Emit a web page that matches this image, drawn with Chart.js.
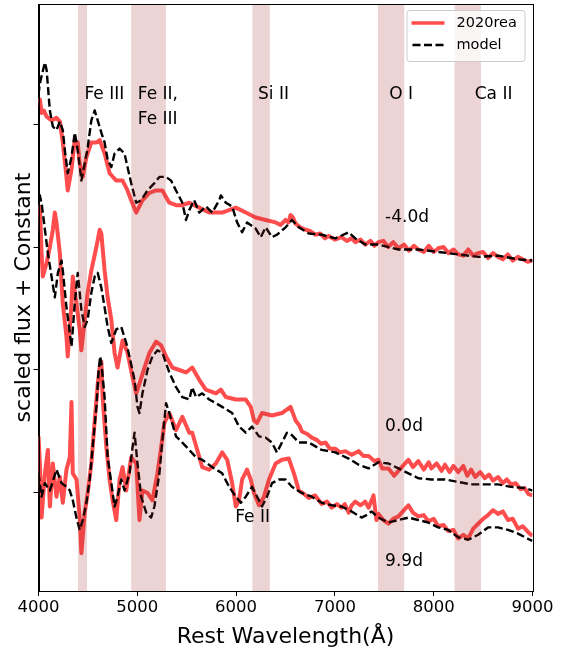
<!DOCTYPE html>
<html>
<head>
<meta charset="utf-8">
<script src="https://cdn.jsdelivr.net/npm/chart.js@4"></script>
<style>
  html, body { margin: 0; padding: 0; background: #fff; }
</style>
</head>
<body>
<canvas id="spectra" width="568" height="648"></canvas>
<script>
// --- data (wavelength in A, scaled flux + constant) ---
const epochLabels = ["-4.0d", "0.0d", "9.9d"];
const epochLabelFlux = [2.24, 0.54, -0.56];
const epochLabelWave = 7508;

const waveObsA = [4000,4014,4031,4054,4082,4132,4182,4216,4246,4283,4296,4334,4367,4397,4417,4448,4485,4535,4586,4619,4669,4720,4787,4851,4901,4938,4989,5052,5123,5190,5254,5324,5392,5456,5526,5627,5728,5859,5997,6098,6198,6299,6400,
  6450,6501,6530,6551,6575,6602,6650,6703,6750,6803,6850,6900,6937,7000,7068,7120,7170,7206,7260,7307,7360,7400,7441,7490,7540,7590,7643,7700,7750,7800,7844,7900,7950,8000,8046,8100,8150,8200,8248,8300,8350,8400,8450,8500,8550,8600,8651,8700,8750,8800,8853,8900,8950,9000];
const fluxObsA = [3.18,3.20,3.09,3.11,3.06,3.03,3.05,3.02,2.85,2.57,2.46,2.63,2.87,2.85,2.68,2.57,2.73,2.85,2.85,2.87,2.76,2.60,2.54,2.54,2.46,2.38,2.28,2.38,2.44,2.46,2.46,2.36,2.34,2.34,2.36,2.32,2.28,2.28,2.32,2.28,2.24,2.22,2.20,
  2.18,2.22,2.20,2.26,2.24,2.19,2.16,2.14,2.13,2.10,2.11,2.07,2.09,2.06,2.08,2.05,2.07,2.04,2.06,2.02,2.05,2.01,2.04,2.05,2.00,2.04,1.99,2.02,1.97,2.01,1.98,1.96,2.01,1.96,1.99,2.00,1.95,1.98,1.94,1.93,1.98,1.93,1.95,1.96,1.91,1.95,1.92,1.90,1.94,1.89,1.92,1.90,1.88,1.89];
const waveModelA = [4000,4014,4034,4065,4082,4115,4145,4182,4216,4246,4266,4296,4334,4367,4397,4434,4468,4498,4535,4569,4599,4636,4669,4700,4737,4770,4821,4871,4901,4938,4989,5039,5103,5173,5224,5291,5342,5392,5456,5493,5526,5576,5627,5694,5758,5829,5846,5896,5960,6010,6061,6111,6198,6249,6299,6363,6413,6501,6565,6635,6736,6867,7005,7139,7206,7307,7441,7643,7844,8046,8248,8450,8651,8853,9000];
const fluxModelA = [3.24,3.33,3.40,3.50,3.44,3.11,2.98,2.95,3.02,2.95,2.79,2.60,2.73,2.93,2.79,2.54,2.68,2.81,3.03,3.11,3.03,2.93,2.85,2.71,2.65,2.76,2.80,2.76,2.65,2.52,2.36,2.38,2.46,2.52,2.57,2.57,2.54,2.46,2.36,2.22,2.30,2.38,2.28,2.33,2.28,2.38,2.42,2.36,2.33,2.20,2.12,2.20,2.15,2.08,2.16,2.08,2.10,2.16,2.22,2.16,2.11,2.10,2.07,2.12,2.07,2.02,2.02,1.98,1.98,1.96,1.94,1.92,1.93,1.90,1.89];

const waveObsB = [4000,4014,4031,4044,4082,4115,4145,4165,4182,4216,4246,4283,4296,4334,4347,4384,4417,4434,4468,4498,4535,4586,4619,4636,4669,4700,4737,4770,4800,4851,4901,4952,4989,5022,5073,5123,5190,5241,5291,5355,5425,5493,5556,5627,5694,5795,5846,5896,5997,6098,6148,6181,6212,6262,6363,6464,6551,6602,
  6640,6666,6720,6766,6820,6860,6904,6950,7005,7050,7106,7170,7240,7290,7341,7400,7441,7480,7542,7600,7643,7700,7744,7790,7844,7900,7950,7976,8030,8080,8114,8160,8200,8248,8300,8340,8379,8420,8470,8517,8560,8600,8651,8700,8740,8782,8830,8880,8920,8960,9000];
const fluxObsB = [2.26,2.33,1.95,1.76,1.87,2.00,2.14,2.28,2.20,1.95,1.54,1.27,1.11,1.54,1.76,1.54,1.33,1.16,1.41,1.63,1.81,2.00,2.14,2.11,1.81,1.59,1.41,1.14,1.02,1.24,1.14,0.94,0.81,0.89,1.02,1.14,1.23,1.20,1.11,1.02,1.00,0.98,1.02,0.92,0.84,0.81,0.84,0.78,0.76,0.76,0.70,0.59,0.57,0.65,0.63,0.65,0.70,0.59,
  0.55,0.50,0.48,0.45,0.43,0.40,0.41,0.36,0.36,0.33,0.34,0.31,0.34,0.30,0.30,0.26,0.27,0.20,0.20,0.14,0.18,0.23,0.27,0.21,0.26,0.19,0.25,0.20,0.24,0.18,0.23,0.17,0.22,0.17,0.22,0.14,0.19,0.13,0.17,0.12,0.15,0.10,0.13,0.08,0.11,0.07,0.08,0.03,0.04,-0.01,-0.02];
const waveModelB = [4000,4014,4034,4065,4095,4132,4165,4196,4233,4246,4283,4317,4334,4367,4397,4434,4468,4498,4535,4569,4599,4636,4669,4700,4737,4787,4838,4888,4921,4972,5002,5022,5052,5103,5153,5204,5254,5324,5392,5456,5526,5556,5594,5657,5728,5795,5859,5960,6030,6098,6161,6232,6299,6363,6413,6464,6514,6565,6635,6736,6867,7005,7139,7240,7341,7441,7542,7643,7744,7844,7976,8114,8248,8379,8517,8651,8782,8920,9000];
const fluxModelB = [2.41,2.42,2.34,2.14,1.95,1.76,1.59,1.79,1.89,1.81,1.51,1.30,1.19,1.54,1.79,1.49,1.35,1.41,1.63,1.76,1.79,1.67,1.51,1.35,1.22,1.33,1.35,1.22,1.11,0.92,0.70,0.65,0.81,1.00,1.11,1.16,1.14,0.98,0.86,0.78,0.76,0.86,0.78,0.81,0.76,0.73,0.70,0.65,0.54,0.49,0.54,0.46,0.45,0.41,0.33,0.41,0.49,0.47,0.41,0.41,0.35,0.33,0.28,0.23,0.20,0.25,0.24,0.20,0.16,0.12,0.11,0.11,0.09,0.07,0.07,0.07,0.05,0.04,0.02];

const waveObsC = [4000,4014,4031,4065,4095,4115,4145,4182,4216,4246,4283,4317,4334,4347,4384,4417,4434,4468,4498,4535,4569,4599,4619,4636,4649,4687,4720,4750,4787,4821,4851,4888,4938,4989,5022,5052,5103,5153,5204,5241,5274,5324,5392,5456,5526,5556,5607,5657,5728,5795,5859,5910,5960,5997,6030,6061,6111,6148,6181,6232,6282,6333,6400,6464,6534,6585,6635,
  6690,6736,6800,6867,6920,6968,7020,7068,7100,7139,7170,7206,7260,7307,7341,7391,7420,7441,7490,7542,7590,7643,7700,7744,7790,7844,7900,7945,8000,8046,8100,8147,8200,8248,8300,8349,8400,8450,8500,8550,8600,8651,8700,8752,8800,8853,8900,8971,9000];
const fluxObsC = [0.46,0.24,-0.20,0.16,0.35,-0.11,0.24,-0.03,0.13,-0.08,0.19,0.29,0.74,0.16,0.11,-0.20,-0.49,-0.16,0.00,0.24,0.59,0.88,1.02,1.07,0.78,0.37,0.11,-0.06,-0.22,0.11,0.21,0.02,0.29,0.24,-0.22,0.02,0.00,-0.06,0.16,0.37,0.57,0.65,0.51,0.62,0.49,0.49,0.35,0.21,0.19,0.24,0.33,0.27,0.08,-0.11,-0.06,0.11,0.19,0.11,0.00,-0.10,-0.03,0.11,0.24,0.27,0.28,0.16,0.02,
  -0.01,-0.04,-0.02,-0.09,-0.07,-0.12,-0.09,-0.12,-0.09,-0.16,-0.10,-0.07,-0.10,-0.07,-0.12,-0.02,-0.22,-0.17,-0.22,-0.25,-0.21,-0.19,-0.14,-0.10,-0.16,-0.19,-0.18,-0.23,-0.21,-0.27,-0.26,-0.31,-0.30,-0.37,-0.34,-0.37,-0.29,-0.25,-0.21,-0.18,-0.14,-0.17,-0.15,-0.22,-0.21,-0.29,-0.27,-0.33,-0.35];
const waveModelC = [4000,4031,4065,4115,4182,4233,4283,4317,4347,4384,4417,4448,4485,4518,4548,4586,4609,4624,4639,4669,4700,4737,4770,4800,4838,4871,4921,4952,4972,5002,5039,5090,5140,5173,5224,5254,5291,5324,5392,5456,5526,5594,5657,5758,5859,5930,5997,6048,6098,6161,6232,6262,6313,6363,6433,6501,6565,6666,6766,6867,6968,7068,7169,7270,7320,7371,7441,7542,7643,7744,7844,7945,8046,8147,8248,8349,8450,8550,8651,8752,8853,8971,9000];
const fluxModelC = [0.16,-0.03,0.08,0.02,0.19,0.08,0.05,0.02,-0.06,-0.20,-0.30,-0.22,-0.08,0.11,0.37,0.70,1.00,1.11,1.04,0.78,0.29,0.08,-0.11,-0.03,0.11,0.02,0.16,0.37,0.49,0.24,-0.03,-0.16,-0.20,-0.11,0.16,0.43,0.73,0.65,0.46,0.41,0.35,0.29,0.27,0.21,0.16,0.05,-0.03,-0.08,-0.03,0.05,-0.06,-0.11,-0.03,0.08,0.11,0.11,0.05,0.00,-0.03,-0.08,-0.10,-0.11,-0.15,-0.20,-0.18,-0.15,-0.20,-0.24,-0.22,-0.20,-0.22,-0.24,-0.28,-0.30,-0.36,-0.38,-0.34,-0.28,-0.28,-0.30,-0.33,-0.38,-0.39];

// shaded line regions
const bandStart = [4400, 4938, 6165, 7435, 8211];
const bandEnd = [4491, 5290, 6341, 7702, 8479];

// line identifications
const ionText = ["Fe III", "Fe II,", "Fe III", "Si II", "O I", "Ca II", "Fe II"];
const ionWave = [4667, 5005, 5005, 6379, 7670, 8606, 6167];
const ionFlux = [3.24, 3.24, 3.04, 3.24, 3.24, 3.24, -0.20];
const ionAlign = ["center", "left", "left", "center", "center", "center", "center"];

const xTicks = [4000, 5000, 6000, 7000, 8000, 9000];
const yTicks = [0, 1, 2, 3];

const FONT = "'DejaVu Sans', 'Liberation Sans', sans-serif";
const OBS_COLOR = "#ff4d4d";
const MODEL_COLOR = "#000000";

function zip(w, f) {
  return w.map((x, i) => ({ x: x, y: f[i] }));
}

function obsSet(w, f) {
  return {
    label: "2020rea",
    data: zip(w, f),
    borderColor: OBS_COLOR,
    borderWidth: 4,
    borderJoinStyle: "round",
    pointRadius: 0,
    tension: 0,
    order: 2
  };
}

function modelSet(w, f) {
  return {
    label: "model",
    data: zip(w, f),
    borderColor: MODEL_COLOR,
    borderWidth: 2.4,
    borderDash: [8, 3.5],
    borderJoinStyle: "round",
    pointRadius: 0,
    tension: 0,
    order: 1
  };
}

const overlayPlugin = {
  id: "overlay",
  afterDatasetsDraw(chart) {
    const { ctx, chartArea: a, scales: { x, y } } = chart;
    ctx.save();

    // shaded regions on top of the spectra
    ctx.fillStyle = "rgba(165,42,42,0.2)";
    bandStart.forEach((s, i) => {
      const x0 = x.getPixelForValue(s);
      const x1 = x.getPixelForValue(bandEnd[i]);
      ctx.fillRect(x0, a.top, x1 - x0, a.bottom - a.top);
    });

    // top / right spines
    ctx.strokeStyle = "#000";
    ctx.lineWidth = 1;
    ctx.strokeRect(Math.round(a.left) + 0.5, Math.round(a.top) + 0.5,
      Math.round(a.right - a.left), Math.round(a.bottom - a.top));

    // ion labels
    ctx.fillStyle = "#000";
    ctx.font = "17px " + FONT;
    ctx.textBaseline = "middle";
    ionText.forEach((t, i) => {
      ctx.textAlign = ionAlign[i];
      ctx.fillText(t, x.getPixelForValue(ionWave[i]), y.getPixelForValue(ionFlux[i]));
    });

    // epoch labels
    ctx.textAlign = "left";
    epochLabels.forEach((t, i) => {
      ctx.fillText(t, x.getPixelForValue(epochLabelWave), y.getPixelForValue(epochLabelFlux[i]));
    });

    // legend
    const lx = a.right - 126, ly = a.top + 6, lw = 118, lh = 51;
    ctx.beginPath();
    ctx.roundRect(lx + 0.5, ly + 0.5, lw, lh, 3);
    ctx.fillStyle = "rgba(255,255,255,0.8)";
    ctx.fill();
    ctx.strokeStyle = "#cccccc";
    ctx.stroke();

    ctx.lineWidth = 3.5;
    ctx.strokeStyle = OBS_COLOR;
    ctx.beginPath();
    ctx.moveTo(lx + 5, ly + 13);
    ctx.lineTo(lx + 38, ly + 13);
    ctx.stroke();

    ctx.lineWidth = 2.4;
    ctx.strokeStyle = MODEL_COLOR;
    ctx.setLineDash([8, 3.5]);
    ctx.beginPath();
    ctx.moveTo(lx + 6, ly + 35);
    ctx.lineTo(lx + 37, ly + 35);
    ctx.stroke();
    ctx.setLineDash([]);

    ctx.fillStyle = "#000";
    ctx.font = "14.5px " + FONT;
    ctx.textAlign = "left";
    ctx.fillText("2020rea", lx + 50, ly + 13);
    ctx.fillText("model", lx + 50, ly + 35);

    ctx.restore();
  }
};

new Chart(document.getElementById("spectra"), {
  type: "line",
  data: {
    datasets: [
      obsSet(waveObsA, fluxObsA), modelSet(waveModelA, fluxModelA),
      obsSet(waveObsB, fluxObsB), modelSet(waveModelB, fluxModelB),
      obsSet(waveObsC, fluxObsC), modelSet(waveModelC, fluxModelC)
    ]
  },
  options: {
    responsive: false,
    animation: false,
    devicePixelRatio: 1,
    layout: { padding: { top: 4, right: 35.5, left: 0, bottom: 0 } },
    plugins: {
      legend: { display: false },
      tooltip: { enabled: false }
    },
    scales: {
      x: {
        type: "linear",
        min: 4000,
        max: 9000,
        afterFit: s => { s.height = 57; },
        afterBuildTicks: s => { s.ticks = xTicks.map(v => ({ value: v })); },
        grid: { display: true, drawOnChartArea: false, drawTicks: true, tickLength: 5, color: "#000" },
        border: { display: true, color: "#000", width: 1 },
        ticks: {
          color: "#000",
          padding: 2,
          font: { family: FONT, size: 16.5 },
          maxRotation: 0,
          callback: v => String(v)
        },
        title: {
          display: true,
          text: "Rest Wavelength(Å)",
          color: "#000",
          font: { family: FONT, size: 22, lineHeight: 1 },
          padding: { top: 0, bottom: 0 }
        }
      },
      y: {
        type: "linear",
        min: -0.797,
        max: 3.976,
        afterFit: s => { s.width = 38.5; },
        afterBuildTicks: s => { s.ticks = yTicks.map(v => ({ value: v })); },
        grid: { display: true, drawOnChartArea: false, drawTicks: true, tickLength: 5, color: "#000" },
        border: { display: true, color: "#000", width: 1 },
        ticks: { display: false },
        title: {
          display: true,
          text: "scaled flux + Constant",
          color: "#000",
          font: { family: FONT, size: 22, lineHeight: 1 },
          padding: { top: 13, bottom: 0 }
        }
      }
    }
  },
  plugins: [overlayPlugin]
});
</script>
</body>
</html>
